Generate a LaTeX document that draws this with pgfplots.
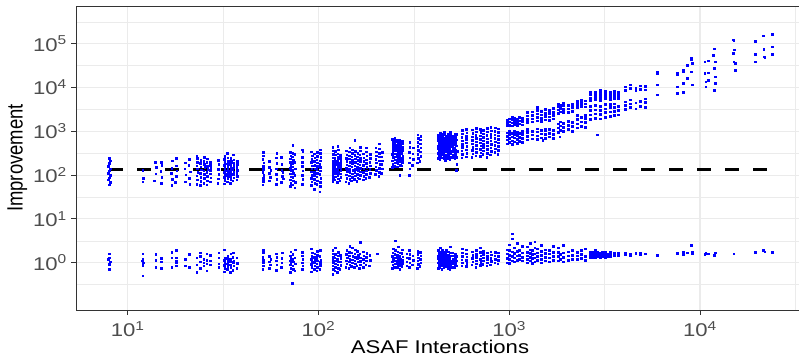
\documentclass[border=0pt]{standalone}
\usepackage{graphicx}
\usepackage{pgfplots}
\pgfplotsset{compat=1.18}
\usepackage{fontspec}
\setmainfont{Liberation Sans}
\definecolor{gridc}{RGB}{235,235,235}
\definecolor{gray20}{RGB}{51,51,51}
\definecolor{gray30}{RGB}{77,77,77}
\newcommand{\tl}[1]{\scalebox{1.2}[1]{10\textsuperscript{#1}}}
\pgfplotsset{pts/.style={only marks, mark=square*, mark size=0.8bp, color=blue, mark options={draw=none, fill=blue}}}
\begin{document}
\begin{tikzpicture}
\useasboundingbox (0,0) rectangle (799bp,356bp);
\begin{axis}[
 at={(76bp,46bp)}, anchor=south west,
 scale only axis, width=729.7bp, height=304bp,
 xmode=log, ymode=log,
 xmin=5.36, xmax=35800, ymin=0.0832, ymax=726000,
 xtick={10,100,1000,10000}, xticklabels={\tl{1},\tl{2},\tl{3},\tl{4}},
 ytick={1,10,100,1000,10000,100000}, yticklabels={\tl{0},\tl{1},\tl{2},\tl{3},\tl{4},\tl{5}},
 minor xtick={3.1623,31.623,316.23,3162.3,31623},
 minor ytick={0.31623,3.1623,31.623,316.23,3162.3,31623,316230},
 grid=both,
 major grid style={gridc, line width=1.1bp},
 minor grid style={gridc, line width=0.55bp},
 tick align=outside, major tick length=5bp, minor tick length=0pt,
 tick pos=left,
 tick style={gray20, line width=0.9bp},
 axis line style={gray20, line width=0.9bp},
 tick label style={font=\fontsize{18.5}{20}\selectfont, text=gray30},
 xticklabel style={anchor=north, inner sep=0pt, yshift=-6bp},
 yticklabel style={anchor=east, inner sep=0pt, xshift=-4bp},
 xlabel={\scalebox{1.2}[1]{ASAF Interactions}},
 ylabel={\scalebox{1}[1.2]{Improvement}},
 label style={font=\fontsize{18.5}{20}\selectfont, text=black},
 xlabel style={at={(axis description cs:0.4988,-0.1424)}, anchor=base},
 ylabel style={at={(axis description cs:-0.0730,0.5)}, anchor=base},
]
% upper band
\addplot[pts] coordinates {
(8,60)(8.1,68)(7.9,78)(8,88)(8.1,100)(7.9,112)(8,125)(8.1,140)(7.9,160)(8,185)(8.1,215)(8,240)
(12,71)(12.1,86)(12,128)
(13.8,75)(14,108)(14.1,150)(13.9,198)(15,65)(15.1,90)(14.9,124)(15,200)(15.1,170)
(17,58)(17.1,80)(16.9,112)(17,145)(17.1,215)(17.8,68)(18,95)(18.1,126)(17.9,165)(18,240)
(20,70)(20.1,102)(19.9,140)(20,190)(21,86)(21.2,120)(20.9,170)(21,232)(21.1,62)
(23,62)(23.2,78)(23,96)(23.3,118)(23.1,140)(23,165)(23.2,195)(23.1,240)(23,275)
(24,58)(24.2,72)(24.1,90)(24,110)(24.3,132)(24.1,155)(24,185)(24.2,220)
(25,66)(25.2,84)(25.1,104)(25,126)(25.3,150)(25.1,178)(25,210)(25.2,255)
(26,60)(26.2,75)(26.1,94)(26,115)(26.3,138)(26.1,162)(26,195)(26.2,235)
(27,70)(27.2,88)(27.1,108)(27,130)(27.3,145)(27.1,170)(27,200)
(29.7,66)(29.9,82)(30,105)(29.8,135)(30,175)(29.9,220)
(32,64)(32.3,76)(32.1,90)(32.4,104)(32,118)(32.2,134)(32.3,150)(32,170)(32.2,195)(32.1,230)(32.3,270)
(33.2,70)(33.5,84)(33.3,98)(33.6,112)(33.2,126)(33.4,142)(33.5,160)(33.3,182)(33.6,210)(33.4,250)(33.2,320)
(34.4,66)(34.7,80)(34.5,95)(34.8,108)(34.4,122)(34.6,138)(34.7,155)(34.5,176)(34.8,205)(34.6,240)
(35.6,74)(35.9,88)(35.7,102)(36,118)(35.6,132)(35.8,148)(35.9,168)(35.7,190)(36,225)(35.8,290)
(37.2,78)(37.5,94)(37.3,112)(37.6,130)(37.2,150)(37.4,175)(37.5,205)
(51,60)(51.5,72)(51.2,85)(51.6,100)(51,118)(51.4,135)(51.2,160)(51.6,190)(51,230)(51.3,280)(51.5,330)
(55,75)(55.3,110)(55,150)(55.2,210)(56,90)(56.3,130)
(60,62)(60.4,80)(60.2,105)(60,140)(60.4,185)(60.1,250)(60.3,320)
(64,68)(64.4,95)(64.1,130)(64.3,175)(64,260)(65,115)(65.3,82)
(71,55)(71.5,66)(71.2,78)(71.6,92)(71,108)(71.4,125)(71.2,145)(71.6,170)(71,200)(71.3,235)(71.5,280)(71.2,330)
(73,60)(73.5,75)(73.2,90)(73.6,110)(73,130)(73.4,155)(73.2,185)(73.6,220)(73,265)(73.3,320)(73.4,480)
(75,52)(75.4,68)(75.1,100)(75.3,140)(75,200)(75.2,300)
(82,62)(82.5,80)(82.2,100)(82.6,125)(82,160)(82.4,200)(82.2,260)(82.6,340)(82.3,380)
(91.5,58)(92.3,70)(91.8,85)(92.5,100)(91.6,120)(92.2,140)(92.4,165)(91.7,195)(92.1,230)(92.5,280)(91.9,340)
(94.8,48)(95.5,65)(95,80)(95.7,98)(94.9,118)(95.4,140)(95.6,170)(95.1,205)(95.5,250)(95.2,310)
(97.8,62)(98.5,75)(98,92)(98.7,112)(97.9,135)(98.4,160)(98.6,190)(98.1,225)(98.5,270)(98.2,330)
(101.5,42)(102.3,55)(101.8,68)(102.5,84)(101.6,104)(102.2,126)(102.4,150)(101.7,180)(102.1,215)(102.5,260)(101.9,320)(102.3,380)
(118.5,72)(119.5,85)(119,100)(119.8,118)(118.7,138)(119.4,160)(119.6,185)(118.9,215)(119.5,250)(119.1,300)(119.6,360)(119,430)
(121.5,78)(122.5,92)(122,110)(122.8,130)(121.7,152)(122.3,178)(122.6,208)(121.9,245)(122.4,290)(122.1,350)
(125.5,68)(126.5,82)(126,98)(126.8,116)(125.7,136)(126.3,160)(126.6,188)(125.9,220)(126.4,260)(126.1,310)(126.5,380)(126,460)
(129.5,75)(130.5,90)(130,108)(130.8,128)(129.7,150)(130.3,175)(130.6,205)(129.9,240)(130.4,285)
(139,70)(140.5,85)(140,102)(141,122)(139.5,145)(140.3,172)(140.8,205)(139.7,245)(140.4,295)(140.1,360)
(144,65)(145.5,80)(145,96)(146,115)(144.5,138)(145.3,165)(145.8,196)(144.7,235)(145.4,280)(145.1,340)(145.6,420)
(149,74)(150.5,90)(150,108)(151,130)(149.5,155)(150.3,185)(150.8,220)(149.7,265)(150.4,320)(150.1,380)
(154,80)(155.5,96)(155,115)(156,138)(154.5,165)(155.3,196)(155.8,235)(154.7,285)(155.4,350)(155,630)
(159,72)(160.5,88)(160,106)(161,128)(159.5,152)(160.3,182)(160.8,218)(159.7,262)(160.4,315)
(164,82)(165.5,100)(165,120)(166,145)(164.5,172)(165.3,205)(165.8,245)(164.7,295)(165.4,360)(165.1,440)
(171,78)(172.5,95)(172,115)(173,140)(171.5,170)(172.3,205)(172.8,250)(171.7,305)
(177,85)(178.5,104)(178,126)(179,152)(177.5,185)(178.3,225)(178.8,275)(177.7,340)(178.2,420)
(185,90)(186.5,110)(186,135)(187,165)(185.5,200)(186.3,245)(186.8,300)
(199,105)(200.5,128)(200,155)(201,190)(199.5,230)(200.3,280)(200.8,340)(199.7,420)
(207,95)(208.5,118)(208,145)(209,178)(207.5,215)(208.3,265)(208.8,320)(207.7,400)(208.2,520)
(214,110)(215.5,140)(215,175)(216,215)(214.5,265)(215.3,330)
(243,150)(245.5,180)(244,215)(246,255)(243.5,300)(245,350)(246,410)(244.5,480)(245.5,560)(244,650)
(250,160)(252.5,190)(251,225)(253,265)(250.5,310)(252,365)(253,430)(251.5,500)(252.5,590)(251,690)
(258,155)(260.5,185)(259,220)(261,258)(258.5,300)(260,350)(261,410)(259.5,480)(260.5,560)(259,640)
(266,100)(268.5,170)(267,205)(269,240)(266.5,285)(268,335)(269,395)(267.5,460)(268.5,540)(267,620)
(273,165)(275.5,195)(274,230)(276,270)(273.5,320)(275,375)(276,440)(274.5,520)(275.5,600)
(299,100)(300.5,140)(300,190)(301,250)(299.5,330)(300.3,430)(300.8,560)
(311,170)(313,230)(312,310)(313.5,420)
(330,190)(333,240)(331,300)(334,370)(330.5,450)(332,560)(333.5,690)(331.5,830)
(340,210)(343,270)(341,340)(344,420)(340.5,520)(342,640)(343.5,780)
(423,240)(426,275)(424,315)(427,360)(423.5,410)(425,470)(426.5,540)(424,620)(425.5,710)(424.5,820)
(433,225)(436,260)(434,300)(437,345)(433.5,395)(435,455)(436.5,520)(434,600)(435.5,690)(434.5,790)(436,900)
(443,250)(446,290)(444,335)(447,385)(443.5,440)(445,505)(446.5,580)(444,665)(445.5,760)(444.5,870)
(453,235)(456,270)(454,312)(457,358)(453.5,412)(455,475)(456.5,545)(454,625)(455.5,720)(454.5,830)(456,960)
(463,220)(466,255)(464,295)(467,340)(463.5,390)(465,450)(466.5,515)(464,595)(465.5,680)(464.5,780)
(476,245)(479,285)(477,330)(480,380)(476.5,438)(478,505)(479.5,580)(477,670)(478.5,770)(477.5,880)
(488,230)(491,265)(489,305)(492,352)(488.5,405)(490,468)(491.5,540)(489,620)(490.5,715)(489.5,820)(491,940)
(503,255)(506,295)(504,340)(507,392)(503.5,452)(505,520)(506.5,600)(504,690)(505.5,800)
(518,240)(521,278)(519,320)(522,370)(518.5,425)(520,490)(521.5,565)(519,650)(520.5,750)(519.5,870)
(528,130)(531,180)(529,260)(532,350)(528.5,470)(530,640)(531.5,860)
(563,250)(567,300)(564,360)(568,430)(565,515)(566,615)(564.5,735)(567,880)(565.5,1050)
(593,265)(597,318)(594,380)(598,455)(595,545)(596,650)(594.5,780)(597,930)(595.5,1100)
(637,255)(642,305)(639,365)(643,438)(640,525)(641,630)(638.5,755)(642,900)(640.5,1080)
(667,280)(672,335)(669,400)(673,480)(670,575)(671,690)(668.5,825)(672,985)(670.5,1180)
(702,270)(707,325)(704,390)(708,465)(705,555)(706,665)(703.5,795)(707,950)(705.5,1130)
(727,300)(732,360)(729,430)(733,515)(730,615)(731,735)(728.5,880)(732,1050)
(762,260)(767,320)(764,390)(768,470)(765,565)(766,680)(763.5,815)(767,975)(765.5,1170)
(797,290)(802,350)(799,420)(803,505)(800,605)(801,725)(798.5,870)(802,1040)(800.5,1240)
(837,330)(842,400)(839,480)(843,580)(840,700)(841,840)(838.5,1010)(842,1210)
(872,300)(877,370)(874,450)(878,545)(875,660)(876,795)(873.5,960)(877,1150)
(973,1350)(973,1550)(973,1800)(1000,1400)(1000,1650)(1000,1950)(1033,1350)(1033,1580)(1033,1850)(1033,2100)
(1065,1450)(1065,1700)(1065,2000)(1097,1380)(1097,1620)(1097,1900)(1130,1480)(1130,1750)(1130,2100)(1165,1420)(1165,1680)(1165,1980)
(973,520)(973,640)(973,780)(973,930)(1000,560)(1000,700)(1000,850)(1000,990)(1033,500)(1033,610)(1033,750)(1033,900)
(1065,580)(1065,720)(1065,870)(1065,1000)(1097,540)(1097,670)(1097,820)(1097,960)(1130,600)(1130,740)(1130,900)
(1165,560)(1165,690)(1165,850)(1165,990)
(1240,1600)(1240,1900)(1240,2250)(1240,2700)(1316,1650)(1316,1950)(1316,2350)(1316,2800)
(1398,1750)(1398,2100)(1398,2500)(1398,3000)(1398,3600)(1468,1700)(1468,2000)(1468,2400)(1468,2900)
(1541,1850)(1541,2200)(1541,2600)(1541,3200)(1617,1800)(1617,2150)(1617,2550)(1617,3050)
(1698,1950)(1698,2300)(1698,2750)(1698,3400)
(1240,640)(1240,780)(1240,950)(1240,1100)(1316,680)(1316,830)(1316,1000)
(1398,650)(1398,800)(1398,980)(1398,1150)(1468,720)(1468,880)(1468,1070)
(1541,690)(1541,850)(1541,1030)(1541,1150)(1617,750)(1617,910)(1617,1100)
(1698,700)(1698,860)(1698,1050)(1500,630)
(1803,2600)(1803,3100)(1803,3700)(1803,4300)(1850,2800)(1850,3400)(1850,4000)
(1915,2700)(1915,3200)(1915,3900)(1915,4400)(2034,2750)(2034,3300)(2034,3900)(2134,2900)(2134,3500)(2134,4200)
(1803,950)(1803,1200)(1803,1500)(1850,1050)(1850,1350)(1850,1650)(1915,1000)(1915,1250)(1915,1550)
(2034,1100)(2034,1400)(2034,1700)(2134,1000)(2134,1300)(2134,1600)(1840,760)
(2265,3600)(2265,4200)(2265,4900)(2377,3700)(2377,4400)(2377,5200)(2494,3650)(2494,4300)(2494,5000)
(2265,1200)(2265,1500)(2265,1900)(2265,2300)(2377,1300)(2377,1650)(2377,2100)(2494,1250)(2494,1600)(2494,2000)(2494,2350)
(2649,5100)(2649,5900)(2649,6800)(2649,7700)(2815,5300)(2815,6100)(2815,7000)(2815,8000)
(2992,5200)(2992,6000)(2992,6900)(2992,7900)(2992,8600)(3178,5500)(3178,6300)(3178,7300)(3178,8300)
(3374,5300)(3374,6100)(3374,7000)(3374,8000)(3540,5600)(3540,6400)(3540,7400)(3540,8400)(3716,5700)(3716,6600)(3716,7700)
(2649,1900)(2649,2400)(2649,3000)(2649,3700)(2815,2000)(2815,2500)(2815,3100)(2815,3900)
(2992,1950)(2992,2450)(2992,3050)(2992,3800)(3178,2100)(3178,2700)(3178,3300)(3178,4100)
(3374,2200)(3374,2800)(3374,3500)(3374,4200)(3540,2300)(3540,2900)(3540,3600)(3540,4300)(3716,2400)(3716,3000)(3716,3700)(2900,830)
(4050,8800)(4050,10500)(4300,9500)(4300,11500)(4600,8600)(4600,10000)(4850,9200)(4850,11000)(5150,9000)(5150,10800)
(4050,3200)(4050,3900)(4050,4700)(4300,3500)(4300,4300)(4300,5300)(4600,3300)(4600,4500)(4850,3800)(4850,4900)(5150,3600)(5150,4600)(5150,5600)
(5970,22900)(5970,20900)(5970,11500)(5970,6800)(6000,22000)
(7600,20900)(7600,10500)(7600,7400)(8170,22900)(8170,12600)(8170,7900)(8570,32400)(8570,16200)
(8960,46800)(8960,22900)(9100,35500)(9100,11500)(8170,24500)(8960,44000)(7600,20000)
(10600,38900)(10600,20900)(10700,13500)(10700,10500)(11040,40700)(11040,21900)(11040,14800)
(11740,55000)(11840,77600)(11840,27500)(11840,8700)(11990,38900)(11990,17800)(11990,12600)
(14960,123000)(14960,60300)(15000,38900)(15100,72400)(15240,35500)(15240,25100)(15000,118000)
(19400,115000)(19500,57500)(19500,38900)(21470,151000)(21600,74100)(21600,50100)(21830,49000)
(23850,166000)(23850,85100)(23850,58200)
};
% lower band
\addplot[pts] coordinates {
(8,0.72)(8,0.92)(8.1,1.05)(7.9,1.2)(8,1.3)(8,1.6)
(12,0.5)(12,0.88)(12.1,1.0)(11.9,1.1)(12,1.22)(12,1.6)
(14,0.78)(14,1.15)(14,1.55)(15,0.75)(15,1.05)(15,1.25)
(17,0.8)(17,1.3)(17,1.75)(18,0.85)(18,1.0)(18,1.12)(18,1.3)(18,1.9)
(20,1.2)(20,0.85)(21,1.55)(21,0.78)
(23,0.6)(23,0.9)(23,1.3)(24,0.75)(24,1.05)(24,1.4)(24,1.7)(25,0.85)(25,1.0)(25,1.2)
(26,0.65)(26,0.95)(26,1.15)(26,1.6)(27,0.9)(27,1.1)(27,1.5)
(30,0.95)(30,1.3)(30,1.7)(30,0.8)
(32,0.62)(32.3,0.75)(32,0.88)(32.2,1.0)(32,1.15)(32.3,1.3)(32,2.0)
(33.2,0.7)(33.5,0.82)(33.3,0.95)(33.6,1.08)(33.2,1.25)(33.4,1.45)
(34.4,0.6)(34.7,0.78)(34.5,0.9)(34.8,1.05)(34.4,1.2)(34.6,1.6)
(35.6,0.68)(35.9,0.85)(35.7,1.0)(36,1.12)(35.6,1.35)(35.8,1.7)(37.2,0.75)(37.5,0.98)(37.3,1.3)
(51,0.7)(51.4,0.85)(51.2,1.0)(51.5,1.15)(51,1.35)(51.3,1.7)(51.2,1.95)
(55,0.75)(55.3,1.05)(55,1.4)(56,0.9)(56.2,1.2)
(60,0.68)(60.3,0.9)(60.1,1.1)(60.4,1.35)(60,1.6)
(64,0.8)(64.3,1.0)(64.1,1.25)(64.4,1.7)
(71,0.6)(71.5,0.75)(71.2,0.9)(71.6,1.0)(71,1.1)(71.4,1.25)(71.2,1.45)(71.6,1.8)
(73,0.34)(73.5,0.7)(73.2,0.85)(73.6,1.05)(73,1.2)(73.4,1.55)
(75,0.65)(75.4,0.95)(75.1,1.3)(75.3,2.0)
(82,0.7)(82.5,0.85)(82.2,1.0)(82.6,1.2)(82,1.45)(82.4,1.75)
(91.5,0.62)(92.3,0.78)(91.8,0.92)(92.5,1.05)(91.6,1.2)(92.2,1.4)(92.4,1.7)(91.7,2.1)
(94.8,0.7)(95.5,0.85)(95,1.0)(95.7,1.15)(94.9,1.35)(95.4,1.6)
(97.8,0.65)(98.5,0.8)(98,0.95)(98.7,1.1)(97.9,1.28)(98.4,1.5)(98.6,1.85)
(101.5,0.72)(102.3,0.88)(101.8,1.02)(102.5,1.18)(101.6,1.4)(102.2,1.9)
(118.5,0.55)(119.5,0.7)(119,0.85)(119.8,1.0)(118.7,1.15)(119.4,1.35)(119.6,1.6)(118.9,1.95)
(121.5,0.65)(122.5,0.8)(122,0.95)(122.8,1.1)(121.7,1.3)(122.3,1.55)(122.6,2.2)
(125.5,0.6)(126.5,0.75)(126,0.9)(126.8,1.05)(125.7,1.22)(126.3,1.45)(126.6,1.75)
(129.5,0.7)(130.5,0.88)(130,1.05)(130.8,1.25)(129.7,1.5)
(139,0.8)(140.5,0.95)(140,1.1)(141,1.3)(139.5,1.55)(140.3,1.9)
(144,0.75)(145.5,0.9)(145,1.05)(146,1.22)(144.5,1.45)(145.3,1.75)(145.8,2.4)
(149,0.82)(150.5,1.0)(150,1.18)(151,1.4)(149.5,1.7)(150.3,2.2)
(154,0.78)(155.5,0.95)(155,1.12)(156,1.35)(154.5,1.6)(155.3,2.0)
(159,0.85)(160.5,1.05)(160,1.25)(161,1.5)(159.5,1.85)
(164,0.75)(165.5,0.9)(165,1.08)(166,1.3)(164.5,1.6)(165.3,2.9)
(171,0.8)(172.5,1.0)(172,1.2)(173,1.45)(171.5,1.8)
(177,0.9)(178.5,1.1)(178,1.35)(179,1.65)
(185,0.85)(186.5,1.15)(186,1.5)(203,1.6)
(243,0.75)(245.5,0.9)(244,1.05)(246,1.22)(243.5,1.42)(245,1.7)(246,2.1)
(250,0.8)(252.5,0.95)(251,1.12)(253,1.3)(250.5,1.55)(252,1.9)(253,3.2)
(258,0.78)(260.5,0.92)(259,1.08)(261,1.28)(258.5,1.5)(260,1.8)(261,2.3)
(266,0.72)(268.5,0.88)(267,1.02)(269,1.2)(266.5,1.42)(268,1.7)
(273,0.82)(275.5,0.98)(274,1.15)(276,1.38)(273.5,1.65)(275,2.0)
(290,0.85)(290.5,1.05)(289.5,1.3)(290,1.6)
(299,0.8)(300.5,1.0)(300,1.25)(301,1.55)(299.5,1.9)
(311,0.9)(313,1.15)(312,1.45)
(330,0.75)(333,0.92)(331,1.1)(334,1.3)(330.5,1.55)(332,1.85)
(340,0.82)(343,1.0)(341,1.2)(344,1.45)(340.5,1.75)
(423,0.75)(426,0.88)(424,1.0)(427,1.12)(423.5,1.28)(425,1.45)(426.5,1.65)(424,1.9)
(433,0.8)(436,0.92)(434,1.05)(437,1.2)(433.5,1.36)(435,1.55)(436.5,1.8)(434,2.2)
(443,0.72)(446,0.85)(444,0.98)(447,1.12)(443.5,1.28)(445,1.48)(446.5,1.72)(444,2.0)
(453,0.78)(456,0.9)(454,1.02)(457,1.16)(453.5,1.32)(455,1.52)(456.5,1.76)
(463,0.82)(466,0.95)(464,1.08)(467,1.24)(463.5,1.42)(465,1.64)(466.5,1.9)
(476,0.76)(479,0.88)(477,1.0)(480,1.15)(476.5,1.32)(478,1.52)(479.5,1.78)
(488,0.7)(491,0.84)(489,0.97)(492,1.1)(488.5,1.26)(490,1.45)(491.5,1.68)(489,2.3)
(503,0.8)(506,0.94)(504,1.08)(507,1.24)(503.5,1.44)(505,1.7)
(518,0.78)(521,0.9)(519,1.04)(522,1.2)(518.5,1.4)(520,1.62)
(528,0.85)(531,1.1)(529,1.4)
(563,0.85)(567,1.0)(564,1.18)(568,1.4)(565,1.7)(566,2.1)
(593,0.82)(597,0.98)(594,1.15)(598,1.36)(595,1.62)(596,2.0)
(637,0.9)(642,1.06)(639,1.25)(643,1.5)(640,1.8)
(667,0.8)(672,0.95)(669,1.12)(673,1.32)(670,1.58)(671,1.95)
(702,0.88)(707,1.04)(704,1.22)(708,1.45)(705,1.75)(706,2.2)
(727,0.92)(732,1.1)(729,1.3)(733,1.55)(730,1.85)
(762,0.85)(767,1.0)(764,1.2)(768,1.42)(765,1.7)
(797,0.9)(802,1.08)(799,1.28)(803,1.52)(800,1.8)
(837,1.0)(842,1.2)(839,1.45)(843,1.75)
(872,0.95)(877,1.15)(874,1.4)(878,1.7)
(973,1.0)(973,1.25)(973,1.6)(973,2.0)(1000,0.98)(1000,1.2)(1000,1.5)(1000,1.9)(1000,2.6)
(1033,1.1)(1033,1.4)(1033,1.8)(1033,4.6)(1033,3.5)(1065,1.05)(1065,1.3)(1065,1.65)(1065,2.2)
(1097,1.15)(1097,1.45)(1097,1.85)(1097,2.8)(1130,1.2)(1130,1.5)(1130,1.9)(1165,1.1)(1165,1.35)(1165,1.7)(1165,2.4)
(1240,1.0)(1240,1.2)(1240,1.45)(1240,1.75)(1240,2.3)(1290,1.1)(1290,1.35)(1290,1.65)(1290,2.0)(1290,2.8)
(1316,0.98)(1316,1.25)(1316,1.55)(1316,1.9)(1360,1.05)(1360,1.3)(1360,1.6)(1360,2.2)(1360,3.0)
(1398,1.15)(1398,1.4)(1398,1.7)(1398,2.1)(1468,1.0)(1468,1.22)(1468,1.5)(1468,1.85)(1468,2.5)
(1541,1.1)(1541,1.35)(1541,1.65)(1541,2.0)(1617,1.05)(1617,1.3)(1617,1.6)(1617,1.95)
(1698,1.15)(1698,1.4)(1698,1.75)(1698,2.4)
(1803,1.1)(1803,1.4)(1803,1.75)(1803,2.2)(1850,1.2)(1850,1.55)(1915,1.05)(1915,1.35)(1915,1.7)(1915,2.5)
(2034,1.15)(2034,1.45)(2034,1.8)(2134,1.2)(2134,1.5)(2134,1.9)
(2265,1.2)(2265,1.45)(2265,1.75)(2377,1.25)(2377,1.55)(2377,1.9)(2494,1.15)(2494,1.4)(2494,2.1)
(2649,1.3)(2649,1.45)(2649,1.6)(2649,1.8)(2730,1.35)(2730,1.55)(2730,1.75)(2815,1.3)(2815,1.48)(2815,1.68)(2815,1.9)
(2900,1.4)(2900,1.6)(2900,1.8)(2992,1.32)(2992,1.5)(2992,1.7)(3080,1.4)(3080,1.58)(3080,1.78)
(3178,1.35)(3178,1.52)(3178,1.72)(3270,1.42)(3270,1.62)(3374,1.38)(3374,1.55)(3374,1.75)
(3540,1.45)(3540,1.65)(3716,1.5)(3716,1.7)
(4050,1.55)(4050,1.7)(4300,1.6)(4300,1.5)(4600,1.65)(4850,1.55)(4850,1.7)(5150,1.6)
(5970,1.5)
(7600,1.65)(8170,1.55)(8170,1.8)(8570,1.7)(8960,2.5)(9100,1.6)(9100,1.75)
(10600,1.55)(10700,1.65)(11040,1.6)(11840,1.5)(11990,1.7)
(15000,1.6)
(19400,1.75)(21470,1.9)(21830,1.8)(23850,1.75)
};
\addplot[black, line width=3bp, dash pattern=on 14bp off 14bp] coordinates {(8,137)(23850,137)};
\end{axis}
\end{tikzpicture}
\end{document}
